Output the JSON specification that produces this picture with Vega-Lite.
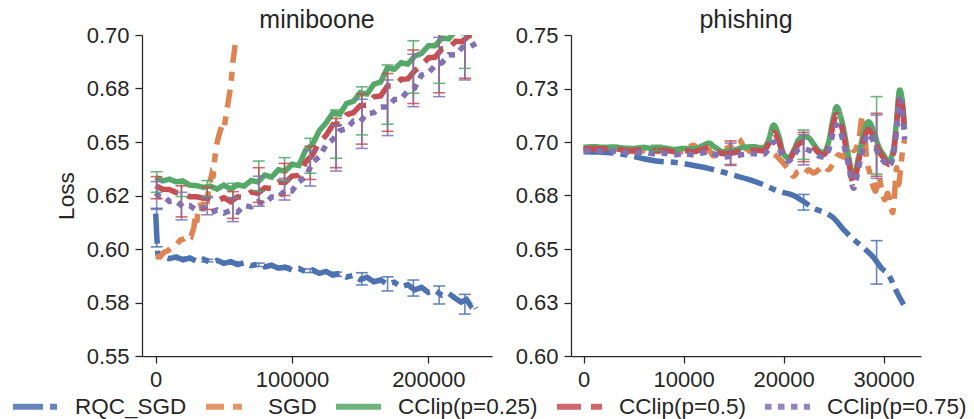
{
  "$schema": "https://vega.github.io/schema/vega-lite/v6.json",
  "padding": {"left": 10, "top": 8, "right": 0, "bottom": 0},
  "config": {
    "view": {"stroke": null},
    "font": "Liberation Sans",
    "axis": {"domainColor": "#262626", "domainWidth": 1.25, "tickColor": "#262626", "tickWidth": 1.25, "tickSize": 7, "labelFontSize": 22, "labelColor": "#262626", "labelFont": "Liberation Sans", "grid": false, "labelPadding": 6, "titleFontSize": 22.7, "titleColor": "#262626", "titleFontWeight": "normal", "titleFont": "Liberation Sans"},
    "title": {"fontSize": 25, "fontWeight": "normal", "color": "#262626", "font": "Liberation Sans", "anchor": "middle", "offset": -9},
    "legend": {"labelFont": "Liberation Sans", "labelFontSize": 22.5, "labelColor": "#262626", "symbolType": "stroke", "symbolSize": 2025, "symbolStrokeWidth": 6, "labelOffset": 14, "columnPadding": 7, "padding": 0}
  },
  "datasets": {
    "m": [
      {"s":"a","x":0,"y":0.6165},{"s":"a","x":800,"y":0.606},{"s":"a","x":1600,"y":0.5975},{"s":"a","x":5000,"y":0.5964},{"s":"a","x":10000,"y":0.5955},{"s":"a","x":15000,"y":0.5963},{"s":"a","x":20000,"y":0.5949},{"s":"a","x":25000,"y":0.5958},{"s":"a","x":30000,"y":0.5943},{"s":"a","x":35000,"y":0.5952},{"s":"a","x":40000,"y":0.5938},{"s":"a","x":45000,"y":0.5947},{"s":"a","x":50000,"y":0.5933},{"s":"a","x":55000,"y":0.5941},{"s":"a","x":60000,"y":0.5927},{"s":"a","x":65000,"y":0.5936},{"s":"a","x":70000,"y":0.5922},{"s":"a","x":75000,"y":0.5929},{"s":"a","x":80000,"y":0.5916},{"s":"a","x":85000,"y":0.5924},{"s":"a","x":90000,"y":0.591},{"s":"a","x":95000,"y":0.5915},{"s":"a","x":100000,"y":0.5902},{"s":"a","x":105000,"y":0.5909},{"s":"a","x":110000,"y":0.5894},{"s":"a","x":115000,"y":0.5902},{"s":"a","x":120000,"y":0.5886},{"s":"a","x":125000,"y":0.5895},{"s":"a","x":130000,"y":0.5878},{"s":"a","x":135000,"y":0.5886},{"s":"a","x":140000,"y":0.5869},{"s":"a","x":145000,"y":0.5877},{"s":"a","x":150000,"y":0.5857},{"s":"a","x":155000,"y":0.5868},{"s":"a","x":160000,"y":0.5847},{"s":"a","x":165000,"y":0.5855},{"s":"a","x":170000,"y":0.5835},{"s":"a","x":175000,"y":0.5845},{"s":"a","x":180000,"y":0.5823},{"s":"a","x":185000,"y":0.5833},{"s":"a","x":190000,"y":0.5809},{"s":"a","x":195000,"y":0.5821},{"s":"a","x":200000,"y":0.5797},{"s":"a","x":205000,"y":0.5806},{"s":"a","x":210000,"y":0.5784},{"s":"a","x":215000,"y":0.5792},{"s":"a","x":220000,"y":0.5769},{"s":"a","x":224000,"y":0.5752},{"s":"a","x":228000,"y":0.5764},{"s":"a","x":231000,"y":0.5736},{"s":"a","x":233000,"y":0.5748},{"s":"a","x":235000,"y":0.5722},
      {"s":"b","x":0,"y":0.5965},{"s":"b","x":3000,"y":0.5962},{"s":"b","x":6000,"y":0.5985},{"s":"b","x":9000,"y":0.5992},{"s":"b","x":12000,"y":0.6012},{"s":"b","x":15000,"y":0.6018},{"s":"b","x":18000,"y":0.6042},{"s":"b","x":21000,"y":0.6048},{"s":"b","x":24000,"y":0.6068},{"s":"b","x":26000,"y":0.606},{"s":"b","x":28000,"y":0.61},{"s":"b","x":29000,"y":0.615},{"s":"b","x":30000,"y":0.612},{"s":"b","x":31000,"y":0.6172},{"s":"b","x":33000,"y":0.6213},{"s":"b","x":34000,"y":0.618},{"s":"b","x":36000,"y":0.625},{"s":"b","x":38000,"y":0.6235},{"s":"b","x":39000,"y":0.6291},{"s":"b","x":41000,"y":0.6345},{"s":"b","x":42000,"y":0.633},{"s":"b","x":43000,"y":0.6405},{"s":"b","x":44500,"y":0.648},{"s":"b","x":45500,"y":0.651},{"s":"b","x":47000,"y":0.6545},{"s":"b","x":48500,"y":0.6575},{"s":"b","x":50000,"y":0.656},{"s":"b","x":51500,"y":0.662},{"s":"b","x":53000,"y":0.668},{"s":"b","x":54500,"y":0.674},{"s":"b","x":55500,"y":0.679},{"s":"b","x":56500,"y":0.687},{"s":"b","x":57500,"y":0.6915},{"s":"b","x":58200,"y":0.695},{"s":"b","x":58800,"y":0.6972},
      {"s":"c","x":0,"y":0.6335},{"s":"c","x":5000,"y":0.6318},{"s":"c","x":10000,"y":0.6326},{"s":"c","x":15000,"y":0.6314},{"s":"c","x":20000,"y":0.6318},{"s":"c","x":25000,"y":0.6298},{"s":"c","x":30000,"y":0.6296},{"s":"c","x":35000,"y":0.6288},{"s":"c","x":40000,"y":0.6294},{"s":"c","x":45000,"y":0.628},{"s":"c","x":50000,"y":0.6298},{"s":"c","x":55000,"y":0.628},{"s":"c","x":60000,"y":0.63},{"s":"c","x":65000,"y":0.6294},{"s":"c","x":70000,"y":0.632},{"s":"c","x":75000,"y":0.6314},{"s":"c","x":80000,"y":0.6345},{"s":"c","x":85000,"y":0.6336},{"s":"c","x":90000,"y":0.637},{"s":"c","x":95000,"y":0.6364},{"s":"c","x":100000,"y":0.6396},{"s":"c","x":105000,"y":0.639},{"s":"c","x":110000,"y":0.6462},{"s":"c","x":115000,"y":0.6488},{"s":"c","x":120000,"y":0.6553},{"s":"c","x":125000,"y":0.659},{"s":"c","x":130000,"y":0.6636},{"s":"c","x":135000,"y":0.663},{"s":"c","x":140000,"y":0.668},{"s":"c","x":145000,"y":0.669},{"s":"c","x":150000,"y":0.673},{"s":"c","x":155000,"y":0.6724},{"s":"c","x":160000,"y":0.677},{"s":"c","x":165000,"y":0.678},{"s":"c","x":170000,"y":0.6846},{"s":"c","x":175000,"y":0.684},{"s":"c","x":180000,"y":0.687},{"s":"c","x":185000,"y":0.6864},{"s":"c","x":190000,"y":0.6901},{"s":"c","x":195000,"y":0.6914},{"s":"c","x":200000,"y":0.695},{"s":"c","x":205000,"y":0.695},{"s":"c","x":210000,"y":0.6986},{"s":"c","x":215000,"y":0.6982},{"s":"c","x":220000,"y":0.702},{"s":"c","x":225000,"y":0.701},{"s":"c","x":230000,"y":0.704},{"s":"c","x":235000,"y":0.704},
      {"s":"d","x":0,"y":0.6296},{"s":"d","x":5000,"y":0.6279},{"s":"d","x":10000,"y":0.6278},{"s":"d","x":15000,"y":0.6264},{"s":"d","x":20000,"y":0.6263},{"s":"d","x":25000,"y":0.6244},{"s":"d","x":30000,"y":0.6244},{"s":"d","x":35000,"y":0.6237},{"s":"d","x":40000,"y":0.6237},{"s":"d","x":45000,"y":0.6225},{"s":"d","x":50000,"y":0.624},{"s":"d","x":55000,"y":0.6221},{"s":"d","x":60000,"y":0.6244},{"s":"d","x":65000,"y":0.624},{"s":"d","x":70000,"y":0.6266},{"s":"d","x":75000,"y":0.626},{"s":"d","x":80000,"y":0.6286},{"s":"d","x":85000,"y":0.6282},{"s":"d","x":90000,"y":0.6313},{"s":"d","x":95000,"y":0.6311},{"s":"d","x":100000,"y":0.6341},{"s":"d","x":105000,"y":0.6344},{"s":"d","x":110000,"y":0.6406},{"s":"d","x":115000,"y":0.644},{"s":"d","x":120000,"y":0.6498},{"s":"d","x":125000,"y":0.6531},{"s":"d","x":130000,"y":0.6581},{"s":"d","x":135000,"y":0.6585},{"s":"d","x":140000,"y":0.6628},{"s":"d","x":145000,"y":0.6637},{"s":"d","x":150000,"y":0.667},{"s":"d","x":155000,"y":0.6672},{"s":"d","x":160000,"y":0.6711},{"s":"d","x":165000,"y":0.6715},{"s":"d","x":170000,"y":0.6762},{"s":"d","x":175000,"y":0.6762},{"s":"d","x":180000,"y":0.6793},{"s":"d","x":185000,"y":0.6795},{"s":"d","x":190000,"y":0.6833},{"s":"d","x":195000,"y":0.6857},{"s":"d","x":200000,"y":0.6893},{"s":"d","x":205000,"y":0.6897},{"s":"d","x":210000,"y":0.6935},{"s":"d","x":215000,"y":0.6938},{"s":"d","x":220000,"y":0.6971},{"s":"d","x":225000,"y":0.697},{"s":"d","x":230000,"y":0.6998},{"s":"d","x":235000,"y":0.6998},
      {"s":"e","x":0,"y":0.6262},{"s":"e","x":3000,"y":0.6245},{"s":"e","x":6000,"y":0.6247},{"s":"e","x":10000,"y":0.6222},{"s":"e","x":15000,"y":0.6223},{"s":"e","x":20000,"y":0.6198},{"s":"e","x":25000,"y":0.6203},{"s":"e","x":30000,"y":0.618},{"s":"e","x":35000,"y":0.6192},{"s":"e","x":40000,"y":0.617},{"s":"e","x":45000,"y":0.6182},{"s":"e","x":50000,"y":0.6168},{"s":"e","x":55000,"y":0.618},{"s":"e","x":60000,"y":0.6172},{"s":"e","x":65000,"y":0.6203},{"s":"e","x":70000,"y":0.6197},{"s":"e","x":75000,"y":0.6221},{"s":"e","x":80000,"y":0.6212},{"s":"e","x":85000,"y":0.6243},{"s":"e","x":90000,"y":0.6242},{"s":"e","x":95000,"y":0.6274},{"s":"e","x":100000,"y":0.6272},{"s":"e","x":105000,"y":0.6313},{"s":"e","x":110000,"y":0.6337},{"s":"e","x":115000,"y":0.6403},{"s":"e","x":120000,"y":0.6432},{"s":"e","x":125000,"y":0.6486},{"s":"e","x":130000,"y":0.6512},{"s":"e","x":135000,"y":0.6553},{"s":"e","x":140000,"y":0.6562},{"s":"e","x":145000,"y":0.6598},{"s":"e","x":150000,"y":0.6595},{"s":"e","x":155000,"y":0.6633},{"s":"e","x":160000,"y":0.6637},{"s":"e","x":165000,"y":0.6663},{"s":"e","x":170000,"y":0.6664},{"s":"e","x":175000,"y":0.6698},{"s":"e","x":180000,"y":0.6702},{"s":"e","x":185000,"y":0.6738},{"s":"e","x":190000,"y":0.6752},{"s":"e","x":195000,"y":0.6813},{"s":"e","x":200000,"y":0.6822},{"s":"e","x":205000,"y":0.6858},{"s":"e","x":210000,"y":0.687},{"s":"e","x":215000,"y":0.6908},{"s":"e","x":220000,"y":0.6907},{"s":"e","x":225000,"y":0.6943},{"s":"e","x":230000,"y":0.6942},{"s":"e","x":235000,"y":0.6961}
    ],
    "me": [
      {"s":"a","x":700,"lo":0.601,"hi":0.619},{"s":"a","x":18900,"lo":0.595,"hi":0.5962},{"s":"a","x":37800,"lo":0.594,"hi":0.5952},{"s":"a","x":56700,"lo":0.5929,"hi":0.5941},{"s":"a","x":75600,"lo":0.5918,"hi":0.5934},{"s":"a","x":94500,"lo":0.5905,"hi":0.592},{"s":"a","x":113400,"lo":0.589,"hi":0.5907},{"s":"a","x":132300,"lo":0.5872,"hi":0.5892},{"s":"a","x":151200,"lo":0.5832,"hi":0.5889},{"s":"a","x":170100,"lo":0.5804,"hi":0.587},{"s":"a","x":189000,"lo":0.578,"hi":0.5855},{"s":"a","x":207900,"lo":0.5743,"hi":0.5827},{"s":"a","x":226800,"lo":0.5696,"hi":0.5788},
      {"s":"c","x":700,"lo":0.6265,"hi":0.6361},{"s":"c","x":18900,"lo":0.6245,"hi":0.631},{"s":"c","x":37800,"lo":0.6245,"hi":0.632},{"s":"c","x":56700,"lo":0.624,"hi":0.6307},{"s":"c","x":75600,"lo":0.627,"hi":0.6411},{"s":"c","x":94500,"lo":0.632,"hi":0.6427},{"s":"c","x":113400,"lo":0.6354,"hi":0.6517},{"s":"c","x":132300,"lo":0.6424,"hi":0.665},{"s":"c","x":151200,"lo":0.6533,"hi":0.6758},{"s":"c","x":170100,"lo":0.6583,"hi":0.686},{"s":"c","x":189000,"lo":0.6728,"hi":0.6973},{"s":"c","x":207900,"lo":0.6774,"hi":0.71},{"s":"c","x":226800,"lo":0.6844,"hi":0.715},
      {"s":"d","x":700,"lo":0.6235,"hi":0.6338},{"s":"d","x":18900,"lo":0.615,"hi":0.6295},{"s":"d","x":37800,"lo":0.6185,"hi":0.629},{"s":"d","x":56700,"lo":0.6143,"hi":0.6268},{"s":"d","x":75600,"lo":0.6218,"hi":0.638},{"s":"d","x":94500,"lo":0.625,"hi":0.64},{"s":"d","x":113400,"lo":0.6325,"hi":0.648},{"s":"d","x":132300,"lo":0.638,"hi":0.661},{"s":"d","x":151200,"lo":0.649,"hi":0.6725},{"s":"d","x":170100,"lo":0.655,"hi":0.682},{"s":"d","x":189000,"lo":0.668,"hi":0.693},{"s":"d","x":207900,"lo":0.673,"hi":0.705},{"s":"d","x":226800,"lo":0.6798,"hi":0.71},
      {"s":"e","x":700,"lo":0.6185,"hi":0.6315},{"s":"e","x":18900,"lo":0.6136,"hi":0.6265},{"s":"e","x":37800,"lo":0.616,"hi":0.624},{"s":"e","x":56700,"lo":0.6128,"hi":0.624},{"s":"e","x":75600,"lo":0.62,"hi":0.634},{"s":"e","x":94500,"lo":0.6229,"hi":0.633},{"s":"e","x":113400,"lo":0.6294,"hi":0.646},{"s":"e","x":132300,"lo":0.6364,"hi":0.658},{"s":"e","x":151200,"lo":0.647,"hi":0.67},{"s":"e","x":170100,"lo":0.653,"hi":0.679},{"s":"e","x":189000,"lo":0.6665,"hi":0.691},{"s":"e","x":207900,"lo":0.6712,"hi":0.6989},{"s":"e","x":226800,"lo":0.679,"hi":0.708}
    ],
    "p": [
      {"s":"a","x":0,"y":0.6955},{"s":"a","x":1500,"y":0.6953},{"s":"a","x":3000,"y":0.6948},{"s":"a","x":4500,"y":0.6938},{"s":"a","x":6000,"y":0.6922},{"s":"a","x":7500,"y":0.691},{"s":"a","x":9000,"y":0.6905},{"s":"a","x":10500,"y":0.6895},{"s":"a","x":12000,"y":0.6882},{"s":"a","x":13500,"y":0.6865},{"s":"a","x":15000,"y":0.6845},{"s":"a","x":16500,"y":0.6825},{"s":"a","x":18000,"y":0.68},{"s":"a","x":19500,"y":0.677},{"s":"a","x":21000,"y":0.675},{"s":"a","x":22000,"y":0.6722},{"s":"a","x":23000,"y":0.669},{"s":"a","x":24000,"y":0.6672},{"s":"a","x":25000,"y":0.6645},{"s":"a","x":26000,"y":0.659},{"s":"a","x":27000,"y":0.6545},{"s":"a","x":28000,"y":0.6505},{"s":"a","x":29000,"y":0.646},{"s":"a","x":29800,"y":0.641},{"s":"a","x":30500,"y":0.638},{"s":"a","x":31200,"y":0.631},{"s":"a","x":32000,"y":0.624},
      {"s":"b","x":0,"y":0.6965},{"s":"b","x":1000,"y":0.697},{"s":"b","x":2000,"y":0.6962},{"s":"b","x":3000,"y":0.6968},{"s":"b","x":4000,"y":0.696},{"s":"b","x":5000,"y":0.6955},{"s":"b","x":5500,"y":0.6965},{"s":"b","x":6000,"y":0.6958},{"s":"b","x":6500,"y":0.695},{"s":"b","x":7000,"y":0.6962},{"s":"b","x":7500,"y":0.6955},{"s":"b","x":8000,"y":0.6985},{"s":"b","x":8500,"y":0.697},{"s":"b","x":9000,"y":0.6958},{"s":"b","x":9500,"y":0.6965},{"s":"b","x":10000,"y":0.695},{"s":"b","x":10500,"y":0.6975},{"s":"b","x":11000,"y":0.6985},{"s":"b","x":11500,"y":0.696},{"s":"b","x":12000,"y":0.695},{"s":"b","x":12500,"y":0.6965},{"s":"b","x":13000,"y":0.6935},{"s":"b","x":13500,"y":0.695},{"s":"b","x":14000,"y":0.6965},{"s":"b","x":14500,"y":0.6975},{"s":"b","x":15000,"y":0.6995},{"s":"b","x":15500,"y":0.7015},{"s":"b","x":16000,"y":0.698},{"s":"b","x":16500,"y":0.696},{"s":"b","x":17000,"y":0.695},{"s":"b","x":17500,"y":0.6965},{"s":"b","x":18000,"y":0.6975},{"s":"b","x":18500,"y":0.696},{"s":"b","x":19000,"y":0.6945},{"s":"b","x":19500,"y":0.6925},{"s":"b","x":20000,"y":0.69},{"s":"b","x":20500,"y":0.687},{"s":"b","x":21000,"y":0.684},{"s":"b","x":21500,"y":0.6865},{"s":"b","x":22000,"y":0.685},{"s":"b","x":22500,"y":0.687},{"s":"b","x":23000,"y":0.6855},{"s":"b","x":23500,"y":0.687},{"s":"b","x":24000,"y":0.689},{"s":"b","x":24500,"y":0.687},{"s":"b","x":25000,"y":0.6905},{"s":"b","x":25500,"y":0.694},{"s":"b","x":26000,"y":0.693},{"s":"b","x":26500,"y":0.6985},{"s":"b","x":27000,"y":0.696},{"s":"b","x":27500,"y":0.7005},{"s":"b","x":27900,"y":0.7125},{"s":"b","x":28100,"y":0.706},{"s":"b","x":28300,"y":0.692},{"s":"b","x":28600,"y":0.686},{"s":"b","x":28900,"y":0.68},{"s":"b","x":29200,"y":0.677},{"s":"b","x":29500,"y":0.684},{"s":"b","x":29800,"y":0.678},{"s":"b","x":30100,"y":0.673},{"s":"b","x":30400,"y":0.676},{"s":"b","x":30700,"y":0.67},{"s":"b","x":30900,"y":0.667},{"s":"b","x":31100,"y":0.676},{"s":"b","x":31300,"y":0.688},{"s":"b","x":31500,"y":0.68},{"s":"b","x":31700,"y":0.688},{"s":"b","x":31900,"y":0.696},{"s":"b","x":32100,"y":0.701},
      {"s":"c","x":0,"y":0.6975},{"s":"c","x":1000,"y":0.6978},{"s":"c","x":2000,"y":0.6975},{"s":"c","x":3000,"y":0.6977},{"s":"c","x":4000,"y":0.6972},{"s":"c","x":5000,"y":0.697},{"s":"c","x":6000,"y":0.6975},{"s":"c","x":7000,"y":0.6968},{"s":"c","x":8000,"y":0.6972},{"s":"c","x":9000,"y":0.6965},{"s":"c","x":10000,"y":0.697},{"s":"c","x":11000,"y":0.6968},{"s":"c","x":12000,"y":0.6985},{"s":"c","x":12500,"y":0.6995},{"s":"c","x":13000,"y":0.698},{"s":"c","x":14000,"y":0.6955},{"s":"c","x":15000,"y":0.6962},{"s":"c","x":16000,"y":0.6975},{"s":"c","x":17000,"y":0.6978},{"s":"c","x":18000,"y":0.697},{"s":"c","x":18500,"y":0.701},{"s":"c","x":19000,"y":0.708},{"s":"c","x":19500,"y":0.703},{"s":"c","x":20000,"y":0.6945},{"s":"c","x":20500,"y":0.6925},{"s":"c","x":21000,"y":0.696},{"s":"c","x":21500,"y":0.701},{"s":"c","x":22000,"y":0.7025},{"s":"c","x":22500,"y":0.702},{"s":"c","x":23000,"y":0.699},{"s":"c","x":23500,"y":0.696},{"s":"c","x":24000,"y":0.695},{"s":"c","x":24500,"y":0.7},{"s":"c","x":25000,"y":0.712},{"s":"c","x":25300,"y":0.7165},{"s":"c","x":25700,"y":0.712},{"s":"c","x":26000,"y":0.706},{"s":"c","x":26500,"y":0.693},{"s":"c","x":27000,"y":0.6835},{"s":"c","x":27500,"y":0.693},{"s":"c","x":28000,"y":0.704},{"s":"c","x":28500,"y":0.7095},{"s":"c","x":29000,"y":0.705},{"s":"c","x":29500,"y":0.698},{"s":"c","x":30000,"y":0.694},{"s":"c","x":30500,"y":0.691},{"s":"c","x":31000,"y":0.697},{"s":"c","x":31300,"y":0.71},{"s":"c","x":31600,"y":0.7243},{"s":"c","x":31900,"y":0.718},{"s":"c","x":32100,"y":0.706},
      {"s":"d","x":0,"y":0.6968},{"s":"d","x":1000,"y":0.697},{"s":"d","x":2000,"y":0.6968},{"s":"d","x":3000,"y":0.697},{"s":"d","x":4000,"y":0.6962},{"s":"d","x":5000,"y":0.696},{"s":"d","x":6000,"y":0.6965},{"s":"d","x":7000,"y":0.6958},{"s":"d","x":8000,"y":0.6962},{"s":"d","x":9000,"y":0.6955},{"s":"d","x":10000,"y":0.696},{"s":"d","x":11000,"y":0.6955},{"s":"d","x":12000,"y":0.6968},{"s":"d","x":12500,"y":0.6975},{"s":"d","x":13000,"y":0.6965},{"s":"d","x":14000,"y":0.6945},{"s":"d","x":15000,"y":0.695},{"s":"d","x":16000,"y":0.696},{"s":"d","x":17000,"y":0.6962},{"s":"d","x":18000,"y":0.6958},{"s":"d","x":18500,"y":0.699},{"s":"d","x":19000,"y":0.7045},{"s":"d","x":19500,"y":0.7005},{"s":"d","x":20000,"y":0.6935},{"s":"d","x":20500,"y":0.6918},{"s":"d","x":21000,"y":0.695},{"s":"d","x":21500,"y":0.699},{"s":"d","x":22000,"y":0.7},{"s":"d","x":22500,"y":0.6995},{"s":"d","x":23000,"y":0.6975},{"s":"d","x":23500,"y":0.695},{"s":"d","x":24000,"y":0.694},{"s":"d","x":24500,"y":0.698},{"s":"d","x":25000,"y":0.709},{"s":"d","x":25300,"y":0.713},{"s":"d","x":25700,"y":0.709},{"s":"d","x":26000,"y":0.703},{"s":"d","x":26500,"y":0.691},{"s":"d","x":27000,"y":0.6805},{"s":"d","x":27500,"y":0.691},{"s":"d","x":28000,"y":0.701},{"s":"d","x":28500,"y":0.706},{"s":"d","x":29000,"y":0.702},{"s":"d","x":29500,"y":0.696},{"s":"d","x":30000,"y":0.6925},{"s":"d","x":30500,"y":0.6895},{"s":"d","x":31000,"y":0.6955},{"s":"d","x":31300,"y":0.708},{"s":"d","x":31600,"y":0.722},{"s":"d","x":31900,"y":0.716},{"s":"d","x":32100,"y":0.704},
      {"s":"e","x":0,"y":0.6958},{"s":"e","x":1000,"y":0.696},{"s":"e","x":2000,"y":0.6958},{"s":"e","x":3000,"y":0.6958},{"s":"e","x":4000,"y":0.6952},{"s":"e","x":5000,"y":0.695},{"s":"e","x":6000,"y":0.6952},{"s":"e","x":7000,"y":0.6945},{"s":"e","x":8000,"y":0.6948},{"s":"e","x":9000,"y":0.694},{"s":"e","x":10000,"y":0.6945},{"s":"e","x":11000,"y":0.694},{"s":"e","x":12000,"y":0.695},{"s":"e","x":12500,"y":0.6955},{"s":"e","x":13000,"y":0.6945},{"s":"e","x":14000,"y":0.693},{"s":"e","x":15000,"y":0.6935},{"s":"e","x":16000,"y":0.6942},{"s":"e","x":17000,"y":0.6945},{"s":"e","x":18000,"y":0.6942},{"s":"e","x":18500,"y":0.6965},{"s":"e","x":19000,"y":0.7},{"s":"e","x":19500,"y":0.6975},{"s":"e","x":20000,"y":0.6925},{"s":"e","x":20500,"y":0.691},{"s":"e","x":21000,"y":0.6935},{"s":"e","x":21500,"y":0.6965},{"s":"e","x":22000,"y":0.697},{"s":"e","x":22500,"y":0.6962},{"s":"e","x":23000,"y":0.695},{"s":"e","x":23500,"y":0.6935},{"s":"e","x":24000,"y":0.693},{"s":"e","x":24500,"y":0.696},{"s":"e","x":25000,"y":0.705},{"s":"e","x":25300,"y":0.708},{"s":"e","x":25700,"y":0.705},{"s":"e","x":26000,"y":0.699},{"s":"e","x":26500,"y":0.689},{"s":"e","x":27000,"y":0.6784},{"s":"e","x":27500,"y":0.688},{"s":"e","x":28000,"y":0.698},{"s":"e","x":28500,"y":0.704},{"s":"e","x":29000,"y":0.7},{"s":"e","x":29500,"y":0.694},{"s":"e","x":30000,"y":0.691},{"s":"e","x":30500,"y":0.6885},{"s":"e","x":31000,"y":0.694},{"s":"e","x":31300,"y":0.705},{"s":"e","x":31600,"y":0.72},{"s":"e","x":31900,"y":0.712},{"s":"e","x":32100,"y":0.701}
    ],
    "pe": [
      {"s":"a","x":22000,"lo":0.6682,"hi":0.6755},{"s":"a","x":29300,"lo":0.6336,"hi":0.6539},
      {"s":"c","x":7300,"lo":0.696,"hi":0.6985},{"s":"c","x":22000,"lo":0.6919,"hi":0.7056},{"s":"c","x":29300,"lo":0.685,"hi":0.7212},
      {"s":"d","x":14700,"lo":0.6895,"hi":0.7005},{"s":"d","x":22000,"lo":0.6908,"hi":0.7045},{"s":"d","x":29300,"lo":0.684,"hi":0.7134},
      {"s":"e","x":14700,"lo":0.689,"hi":0.6995},{"s":"e","x":22000,"lo":0.6893,"hi":0.7035},{"s":"e","x":29300,"lo":0.683,"hi":0.7126}
    ]
  },
  "spacing": 23,
  "resolve": {"scale": {"color": "shared", "strokeDash": "shared"}},
  "hconcat": [
    {
      "width": 350, "height": 321,
      "title": {"text": "miniboone"},
      "layer": [
        {
          "data": {"name": "m"},
          "mark": {"type": "line", "strokeWidth": 5.5, "clip": true, "strokeCap": "butt"},
          "encoding": {
            "x": {"field": "x", "type": "quantitative", "scale": {"domain": [-10050, 246700], "nice": false, "zero": false}, "axis": {"values": [0, 100000, 200000], "format": "d", "title": null}},
            "y": {"field": "y", "type": "quantitative", "scale": {"domain": [0.55, 0.7], "nice": false, "zero": false}, "axis": {"values": [0.55, 0.575, 0.6, 0.625, 0.65, 0.675, 0.7], "labelExpr": "datum.value < 0.56 ? '0.55' : datum.value < 0.59 ? '0.58' : datum.value < 0.61 ? '0.60' : datum.value < 0.64 ? '0.62' : datum.value < 0.66 ? '0.65' : datum.value < 0.69 ? '0.68' : '0.70'", "title": "Loss", "titlePadding": 8}},
            "color": {"field": "s", "type": "nominal", "scale": {"domain": ["a", "b", "c", "d", "e"], "range": ["#4C72B0", "#DD8452", "#55A868", "#C44E52", "#8172B3"]}, "legend": {"title": null, "orient": "none", "direction": "horizontal", "legendX": -132, "legendY": 346, "symbolType": "stroke", "labelExpr": "datum.label == 'a' ? 'RQC_SGD' : datum.label == 'b' ? 'SGD' : datum.label == 'c' ? 'CClip(p=0.25)' : datum.label == 'd' ? 'CClip(p=0.5)' : 'CClip(p=0.75)'"}},
            "strokeDash": {"field": "s", "type": "nominal", "scale": {"domain": ["a", "b", "c", "d", "e"], "range": [[30, 7, 7, 7], [18, 9, 9, 9], [1, 0], [24, 10], [6.5, 6.5]]}, "legend": {"title": null, "orient": "none", "direction": "horizontal", "legendX": -132, "legendY": 346, "symbolType": "stroke", "labelExpr": "datum.label == 'a' ? 'RQC_SGD' : datum.label == 'b' ? 'SGD' : datum.label == 'c' ? 'CClip(p=0.25)' : datum.label == 'd' ? 'CClip(p=0.5)' : 'CClip(p=0.75)'"}}
          }
        },
        {
          "data": {"name": "me"},
          "mark": {"type": "rule", "strokeWidth": 1.6, "clip": true, "opacity": 0.85},
          "encoding": {"x": {"field": "x", "type": "quantitative"}, "y": {"field": "lo", "type": "quantitative"}, "y2": {"field": "hi"}, "color": {"field": "s", "type": "nominal"}}
        },
        {
          "data": {"name": "me"},
          "mark": {"type": "tick", "orient": "horizontal", "size": 12, "thickness": 1.6, "clip": true, "opacity": 0.85},
          "encoding": {"x": {"field": "x", "type": "quantitative"}, "y": {"field": "lo", "type": "quantitative"}, "color": {"field": "s", "type": "nominal"}}
        },
        {
          "data": {"name": "me"},
          "mark": {"type": "tick", "orient": "horizontal", "size": 12, "thickness": 1.6, "clip": true, "opacity": 0.85},
          "encoding": {"x": {"field": "x", "type": "quantitative"}, "y": {"field": "hi", "type": "quantitative"}, "color": {"field": "s", "type": "nominal"}}
        }
      ]
    },
    {
      "width": 350, "height": 321,
      "title": {"text": "phishing"},
      "layer": [
        {
          "data": {"name": "p"},
          "mark": {"type": "line", "strokeWidth": 5.5, "clip": true, "strokeCap": "butt", "interpolate": "monotone"},
          "encoding": {
            "x": {"field": "x", "type": "quantitative", "scale": {"domain": [-1260, 33740], "nice": false, "zero": false}, "axis": {"values": [0, 10000, 20000, 30000], "format": "d", "title": null}},
            "y": {"field": "y", "type": "quantitative", "scale": {"domain": [0.6, 0.75], "nice": false, "zero": false}, "axis": {"values": [0.6, 0.625, 0.65, 0.675, 0.7, 0.725, 0.75], "labelExpr": "datum.value < 0.61 ? '0.60' : datum.value < 0.64 ? '0.63' : datum.value < 0.66 ? '0.65' : datum.value < 0.69 ? '0.68' : datum.value < 0.71 ? '0.70' : datum.value < 0.74 ? '0.73' : '0.75'", "title": null}},
            "color": {"field": "s", "type": "nominal"},
            "strokeDash": {"field": "s", "type": "nominal"}
          }
        },
        {
          "data": {"name": "pe"},
          "mark": {"type": "rule", "strokeWidth": 1.6, "clip": true, "opacity": 0.85},
          "encoding": {"x": {"field": "x", "type": "quantitative"}, "y": {"field": "lo", "type": "quantitative"}, "y2": {"field": "hi"}, "color": {"field": "s", "type": "nominal"}}
        },
        {
          "data": {"name": "pe"},
          "mark": {"type": "tick", "orient": "horizontal", "size": 12, "thickness": 1.6, "clip": true, "opacity": 0.85},
          "encoding": {"x": {"field": "x", "type": "quantitative"}, "y": {"field": "lo", "type": "quantitative"}, "color": {"field": "s", "type": "nominal"}}
        },
        {
          "data": {"name": "pe"},
          "mark": {"type": "tick", "orient": "horizontal", "size": 12, "thickness": 1.6, "clip": true, "opacity": 0.85},
          "encoding": {"x": {"field": "x", "type": "quantitative"}, "y": {"field": "hi", "type": "quantitative"}, "color": {"field": "s", "type": "nominal"}}
        }
      ]
    }
  ]
}
